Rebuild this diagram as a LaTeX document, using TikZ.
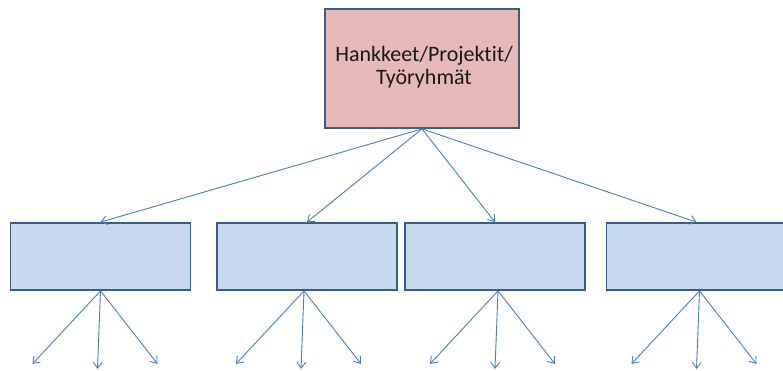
\documentclass[tikz,border=0pt]{standalone}
\usepackage{fontspec}
\setmainfont[Ligatures=NoCommon]{Carlito}
\usetikzlibrary{arrows.meta,calc}
\definecolor{edgeblue}{HTML}{385D8A}
\definecolor{linkblue}{HTML}{4A7EBB}
\definecolor{headfill}{HTML}{E6B9B8}
\definecolor{unitfill}{HTML}{C6D9F1}
\begin{document}
\begin{tikzpicture}[x=1pt,y=-1pt,
  headbox/.style={draw=edgeblue,line width=1.8pt,fill=headfill,
    minimum width=194pt,minimum height=119pt,inner sep=0pt,
    align=center,font=\fontsize{22}{24}\selectfont,text=black!90},
  unitbox/.style={draw=edgeblue,line width=1.8pt,fill=unitfill,
    minimum width=180pt,minimum height=67pt,inner sep=0pt},
  link/.style={draw=linkblue,line width=0.9pt,
    -{Straight Barb[length=6pt,width=9pt,line width=0.9pt]}}]
\useasboundingbox (0,0) rectangle (783,370);
\clip (0,0) rectangle (783,370);
% top box
\node[headbox] (top) at (422,68.5) {\kern4pt\raisebox{-5pt}{\begin{tabular}{@{}c@{}}Hankkeet/Projektit/\\[-1pt]Työryhmät\end{tabular}}};
% second level
\node[unitbox] (b1) at (100.5,256.5) {};
\node[unitbox] (b2) at (307,256.5) {};
\node[unitbox] (b3) at (495,256.5) {};
\node[unitbox] (b4) at (696.5,256.5) {};
\foreach \b in {b1,b2,b3,b4}
  \draw[link] (top.south) -- (\b.north);
% third level: three open-ended arrows per box
\foreach \b/\dx in {b1/0,b2/-3,b3/3,b4/3}{
  \coordinate (\b o) at ($(\b.south)+(\dx,0)$);
  \coordinate (\b l) at ($(\b o)+(-68,73)$);
  \coordinate (\b m) at ($(\b o)+(-3,78)$);
  \coordinate (\b r) at ($(\b o)+(57,73)$);
  \draw[link] (\b o) -- (\b l);
  \draw[link] (\b o) -- (\b m);
  \draw[link] (\b o) -- (\b r);
}
\end{tikzpicture}
\end{document}
